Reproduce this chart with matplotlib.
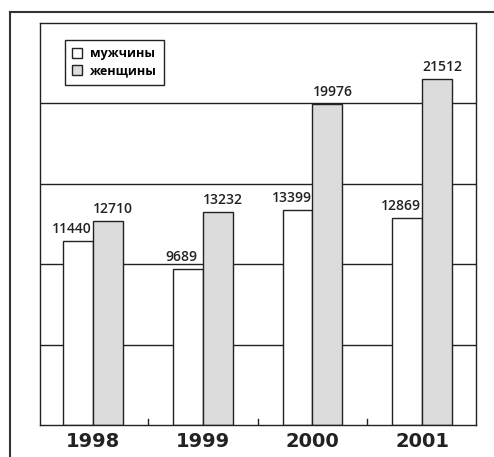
import matplotlib

matplotlib.use("Agg")
import matplotlib.pyplot as plt
from matplotlib.lines import Line2D

years = ["1998", "1999", "2000", "2001"]
men = [11440, 9689, 13399, 12869]
women = [12710, 13232, 19976, 21512]
series_labels = ["мужчины", "женщины"]

W, H = 494, 457
fig = plt.figure(figsize=(W / 100, H / 100), dpi=100)
ax = fig.add_axes([40 / W, (H - 425) / H, (476 - 40) / W, (425 - 23) / H])

plt.rcParams["font.family"] = ["Open Sans", "DejaVu Sans"]

x = list(range(len(years)))
w = 0.273
men_x = [v - w / 2 for v in x]
women_x = [v + w / 2 for v in x]

for y in [5000, 10000, 15000, 20000]:
    ax.axhline(y, color="#222222", lw=1.0, zorder=1)

ax.bar(men_x, men, width=w, color="white", edgecolor="#222222", lw=1.0, zorder=2, label=series_labels[0])
ax.bar(women_x, women, width=w, color="#dcdcdc", edgecolor="#222222", lw=1.0, zorder=2, label=series_labels[1])

for xi, v in zip(men_x, men):
    ax.annotate(str(v), (xi, v), xytext=(-6, 12), textcoords="offset pixels",
                ha="center", va="center", fontsize=10, fontweight="semibold", color="#222222")
for xi, v in zip(women_x, women):
    ax.annotate(str(v), (xi, v), xytext=(5, 12), textcoords="offset pixels",
                ha="center", va="center", fontsize=10, fontweight="semibold", color="#222222")

ax.set_xlim(-0.483, 3.49)
ax.set_ylim(0, 25000)
ax.set_yticks([])
ax.set_xticks(x)
ax.set_xticklabels(years, fontsize=14, fontweight="bold", color="#222222")
ax.tick_params(axis="x", length=0, pad=5)
# small separators between year groups
for pos in [0.5, 1.5, 2.5]:
    ax.plot([pos, pos], [0, 380], color="#222222", lw=1.0, zorder=1)
for s in ax.spines.values():
    s.set_color("#222222")
    s.set_linewidth(1.0)

leg = ax.legend(loc="upper left", bbox_to_anchor=(0.057, 0.958), borderaxespad=0,
                fancybox=False, edgecolor="#222222", framealpha=1,
                handlelength=0.8, handleheight=0.8, handletextpad=0.6,
                prop={"size": 9, "weight": "bold"}, borderpad=0.6, labelspacing=0.3)
leg.get_frame().set_linewidth(1.0)

# outer frame of the scanned figure
fig.add_artist(Line2D([10 / W, 10 / W], [0, 1 - 12 / H], color="#333333", lw=1.5))
fig.add_artist(Line2D([10 / W, 1], [1 - 12 / H, 1 - 12 / H], color="#333333", lw=1.5))

fig.savefig("out.png", dpi=100)
